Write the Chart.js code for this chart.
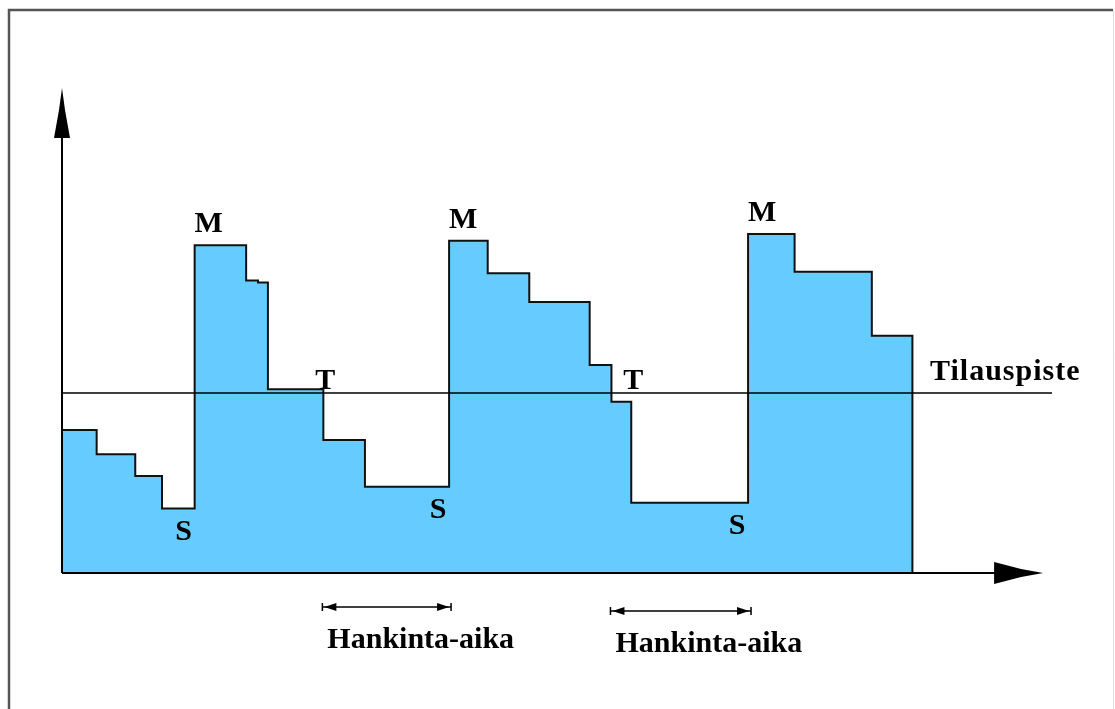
<!DOCTYPE html>
<html>
<head>
<meta charset="utf-8">
<script src="https://cdn.jsdelivr.net/npm/chart.js@4"></script>
<style>
  html, body { margin: 0; padding: 0; background: #fff; }
  #wrap { position: relative; width: 1115px; height: 709px; }
</style>
</head>
<body>
<div id="wrap"><canvas id="chart"></canvas></div>
<script>
// inventory level over time (arbitrary units), held until the next step
const stepTimes = [0, 3.5, 7.4, 10.1, 13.4, 18.6, 19.8, 20.8, 26.4, 30.6, 39.1, 43.0, 47.2, 53.3, 55.5, 57.5, 69.3, 74.0, 81.8, 85.9];
const stockLevel = [29.5, 24.5, 20.0, 13.3, 67.6, 60.3, 59.9, 37.9, 27.4, 17.8, 68.5, 61.8, 55.9, 42.9, 35.3, 14.5, 69.9, 62.1, 48.9, 0];
const reorderPoint = 37.1;
const reorderSpan = [0, 100];

// which steps get the M / S / T letters
const maxIdx = [4, 10, 16];
const minIdx = [3, 9, 15];
const orderIdx = [8, 15];

const leadTimes = [[26.3, 39.3], [55.4, 69.6]];
const leadLabel = 'Hankinta-aika';
const reorderLabel = 'Tilauspiste';

const FONT = 'bold 30px "Liberation Serif", "DejaVu Serif", serif';

const overlay = {
  id: 'overlay',
  afterDatasetsDraw(chart) {
    const ctx = chart.ctx;
    const x = chart.scales.x, y = chart.scales.y;
    const x0 = x.getPixelForValue(0), y0 = y.getPixelForValue(0);
    ctx.save();

    // frame
    ctx.strokeStyle = '#555';
    ctx.lineWidth = 2.5;
    ctx.beginPath();
    ctx.moveTo(9, 720); ctx.lineTo(9, 10); ctx.lineTo(1113, 10);
    ctx.stroke();
    ctx.strokeStyle = '#ddd';
    ctx.lineWidth = 1;
    ctx.beginPath(); ctx.moveTo(1113.5, 10); ctx.lineTo(1113.5, 709); ctx.stroke();

    // axes with arrows
    ctx.strokeStyle = '#000';
    ctx.fillStyle = '#000';
    ctx.lineWidth = 2;
    const xTip = x.getPixelForValue(99.1);
    const yTip = y.getPixelForValue(100);
    ctx.beginPath();
    ctx.moveTo(x0, y0); ctx.lineTo(xTip - 10, y0);
    ctx.moveTo(x0, y0); ctx.lineTo(x0, yTip + 10);
    ctx.stroke();

    ctx.beginPath();
    ctx.moveTo(xTip, y0);
    ctx.lineTo(xTip - 22, y0 - 4);
    ctx.lineTo(xTip - 49, y0 - 11);
    ctx.lineTo(xTip - 49, y0 + 11);
    ctx.lineTo(xTip - 22, y0 + 4);
    ctx.closePath();
    ctx.fill();

    ctx.beginPath();
    ctx.moveTo(x0, yTip);
    ctx.lineTo(x0 - 3, yTip + 22);
    ctx.lineTo(x0 - 8, yTip + 50);
    ctx.lineTo(x0 + 8, yTip + 50);
    ctx.lineTo(x0 + 3, yTip + 22);
    ctx.closePath();
    ctx.fill();

    // letters
    ctx.font = FONT;
    ctx.textAlign = 'center';
    ctx.textBaseline = 'alphabetic';
    maxIdx.forEach(i => {
      ctx.fillText('M', x.getPixelForValue(stepTimes[i]) + 14, y.getPixelForValue(stockLevel[i]) - 13);
    });
    ctx.textBaseline = 'middle';
    minIdx.forEach(i => {
      ctx.fillText('S', x.getPixelForValue(stepTimes[i + 1]) - 11, y.getPixelForValue(stockLevel[i]) + 24);
    });
    ctx.textBaseline = 'alphabetic';
    orderIdx.forEach(i => {
      ctx.fillText('T', x.getPixelForValue(stepTimes[i]) + 2, y.getPixelForValue(reorderPoint) - 4);
    });

    ctx.textAlign = 'left';
    ctx.letterSpacing = '1px';
    ctx.fillText(reorderLabel, 930, y.getPixelForValue(reorderPoint) - 13);
    ctx.letterSpacing = '0px';

    // lead time spans
    leadTimes.forEach((span, k) => {
      const a = x.getPixelForValue(span[0]), b = x.getPixelForValue(span[1]);
      const ly = y0 + 34 + k * 4;
      ctx.lineWidth = 1.5;
      ctx.beginPath();
      ctx.moveTo(a, ly); ctx.lineTo(b, ly);
      ctx.moveTo(a, ly - 4); ctx.lineTo(a, ly + 4);
      ctx.moveTo(b, ly - 4); ctx.lineTo(b, ly + 4);
      ctx.stroke();
      ctx.beginPath();
      ctx.moveTo(a + 2, ly); ctx.lineTo(a + 14, ly - 4); ctx.lineTo(a + 14, ly + 4); ctx.closePath();
      ctx.moveTo(b - 2, ly); ctx.lineTo(b - 14, ly - 4); ctx.lineTo(b - 14, ly + 4); ctx.closePath();
      ctx.fill();
      ctx.fillText(leadLabel, a + 5, ly + 41);
    });

    ctx.restore();
  }
};

const stockPoints = stepTimes.map((t, i) => ({ x: t, y: stockLevel[i] }));
const reorderPoints = reorderSpan.map(t => ({ x: t, y: reorderPoint }));

new Chart(document.getElementById('chart'), {
  type: 'line',
  data: {
    datasets: [
      {
        label: reorderLabel,
        data: reorderPoints,
        borderColor: '#000',
        borderWidth: 1.5,
        pointRadius: 0,
        fill: false
      },
      {
        label: 'Varasto',
        data: stockPoints,
        stepped: 'before',
        borderColor: '#111',
        borderWidth: 2,
        backgroundColor: '#66ccff',
        pointRadius: 0,
        fill: 'origin'
      }
    ]
  },
  options: {
    responsive: true,
    maintainAspectRatio: false,
    animation: false,
    layout: { padding: { left: 62, right: 63, top: 88, bottom: 136 } },
    scales: {
      x: { type: 'linear', min: 0, max: 100, display: false },
      y: { type: 'linear', min: 0, max: 100, display: false }
    },
    plugins: {
      legend: { display: false },
      tooltip: { enabled: false }
    }
  },
  plugins: [overlay]
});
</script>
</body>
</html>
